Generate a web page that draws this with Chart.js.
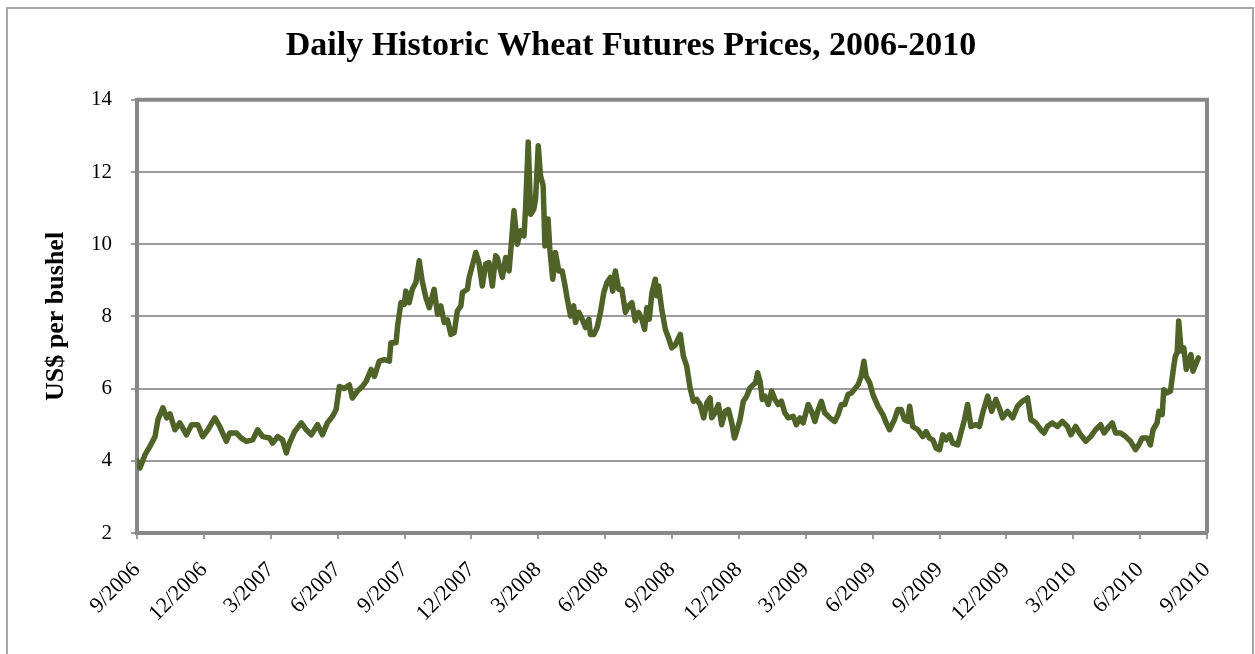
<!DOCTYPE html>
<html>
<head>
<meta charset="utf-8">
<script src="https://cdn.jsdelivr.net/npm/chart.js@4.4.1/dist/chart.umd.min.js"></script>
<style>
  html, body { margin: 0; padding: 0; background: #fff; }
  #wrap { width: 1255px; height: 654px; }
</style>
</head>
<body>
<div id="wrap"><canvas id="line-chart" width="1255" height="654"></canvas></div>
<script>
// months since 9/2006
const months = [
  0, 0.13, 0.36, 0.58, 0.81, 0.94, 1.16, 1.33, 1.48, 1.70,
  1.92, 2.22, 2.45, 2.73, 2.95, 3.18, 3.49, 3.71, 4.01, 4.16,
  4.46, 4.68, 4.91, 5.19, 5.41, 5.64, 5.95, 6.08, 6.31, 6.53,
  6.70, 6.84, 7.07, 7.37, 7.59, 7.82, 8.10, 8.32, 8.54, 8.77,
  8.93, 9.08, 9.30, 9.53, 9.66, 9.89, 10.11, 10.28, 10.50, 10.65,
  10.87, 11.09, 11.32, 11.39, 11.62, 11.69, 11.84, 11.99, 12.06, 12.21,
  12.35, 12.51, 12.66, 12.79, 12.96, 13.11, 13.33, 13.48, 13.63, 13.78,
  13.93, 14.08, 14.23, 14.37, 14.53, 14.60, 14.82, 14.90, 15.04, 15.20,
  15.34, 15.49, 15.64, 15.79, 15.94, 16.09, 16.16, 16.39, 16.54, 16.69,
  16.76, 16.91, 17.06, 17.21, 17.36, 17.43, 17.55, 17.66, 17.80, 17.88,
  18.00, 18.10, 18.22, 18.30, 18.44, 18.52, 18.65, 18.77, 18.92, 19.07,
  19.19, 19.29, 19.45, 19.59, 19.67, 19.82, 19.97, 20.12, 20.27, 20.34,
  20.49, 20.64, 20.79, 20.94, 21.08, 21.24, 21.34, 21.46, 21.61, 21.75,
  21.91, 22.05, 22.20, 22.35, 22.50, 22.65, 22.77, 22.87, 22.98, 23.10,
  23.25, 23.32, 23.40, 23.54, 23.70, 23.84, 23.99, 24.14, 24.37, 24.51,
  24.66, 24.81, 24.96, 25.11, 25.26, 25.42, 25.56, 25.71, 25.78, 25.93,
  26.08, 26.23, 26.38, 26.53, 26.68, 26.80, 26.90, 27.05, 27.20, 27.35,
  27.50, 27.65, 27.75, 27.84, 27.95, 28.05, 28.17, 28.32, 28.47, 28.62,
  28.76, 28.91, 29.06, 29.21, 29.44, 29.58, 29.74, 29.88, 30.11, 30.26,
  30.41, 30.56, 30.70, 30.85, 31.08, 31.30, 31.45, 31.60, 31.75, 31.90,
  32.05, 32.35, 32.49, 32.61, 32.71, 32.87, 33.01, 33.24, 33.46, 33.61,
  33.76, 33.98, 34.13, 34.28, 34.43, 34.58, 34.66, 34.80, 35.03, 35.25,
  35.40, 35.55, 35.70, 35.85, 36.00, 36.15, 36.29, 36.45, 36.59, 36.82,
  36.96, 37.12, 37.26, 37.41, 37.64, 37.79, 37.94, 38.16, 38.34, 38.53,
  38.68, 38.83, 39.05, 39.28, 39.50, 39.72, 39.95, 40.10, 40.32, 40.54,
  40.69, 40.84, 41.06, 41.29, 41.51, 41.74, 41.89, 42.11, 42.33, 42.56,
  42.78, 43.00, 43.23, 43.38, 43.60, 43.75, 43.90, 44.12, 44.35, 44.57,
  44.79, 44.94, 45.09, 45.32, 45.46, 45.58, 45.76, 45.84, 45.99, 46.06,
  46.21, 46.36, 46.51, 46.58, 46.66, 46.73, 46.84, 46.96, 47.07, 47.18,
  47.28, 47.37, 47.46, 47.61
]

// US$ per bushel
const prices = [
  4.0, 3.8, 4.17, 4.4, 4.67, 5.14, 5.47, 5.19, 5.3, 4.86,
  5.05, 4.72, 5.0, 5.0, 4.67, 4.86, 5.19, 4.95, 4.54, 4.77,
  4.77, 4.63, 4.54, 4.58, 4.86, 4.67, 4.63, 4.49, 4.67, 4.58,
  4.22, 4.49, 4.81, 5.05, 4.86, 4.72, 5.0, 4.72, 5.05, 5.23,
  5.42, 6.06, 6.0, 6.1, 5.74, 5.93, 6.06, 6.2, 6.53, 6.34,
  6.76, 6.8, 6.76, 7.27, 7.27, 7.73, 8.38, 8.33, 8.7, 8.38,
  8.75, 8.94, 9.54, 8.99, 8.52, 8.24, 8.75, 8.06, 8.29, 7.83,
  7.9, 7.5, 7.55, 8.15, 8.29, 8.66, 8.75, 9.08, 9.4, 9.77,
  9.49, 8.84, 9.45, 9.49, 8.84, 9.68, 9.63, 9.08, 9.63, 9.26,
  9.77, 10.93, 10.0, 10.37, 10.23, 10.97, 12.83, 10.83, 10.97, 11.25,
  12.73, 11.9, 11.62, 9.95, 10.7, 9.86, 9.03, 9.77, 9.26, 9.26,
  8.89, 8.52, 8.01, 8.29, 7.83, 8.11, 7.92, 7.69, 7.92, 7.5,
  7.5, 7.69, 8.11, 8.66, 8.94, 9.08, 8.7, 9.26, 8.75, 8.75,
  8.11, 8.29, 8.38, 7.88, 8.11, 7.92, 7.64, 8.24, 7.92, 8.66,
  9.03, 8.57, 8.84, 8.2, 7.64, 7.41, 7.13, 7.2, 7.5, 6.9,
  6.62, 6.02, 5.65, 5.7, 5.56, 5.19, 5.6, 5.74, 5.19, 5.33,
  5.56, 5.0, 5.37, 5.42, 5.05, 4.63, 4.81, 5.14, 5.65, 5.79,
  6.02, 6.11, 6.16, 6.44, 6.2, 5.7, 5.79, 5.56, 5.93, 5.7,
  5.56, 5.65, 5.33, 5.19, 5.23, 5.0, 5.19, 5.05, 5.56, 5.37,
  5.09, 5.42, 5.65, 5.33, 5.19, 5.09, 5.28, 5.56, 5.56, 5.84,
  5.88, 6.11, 6.34, 6.76, 6.34, 6.16, 5.84, 5.51, 5.28, 5.05,
  4.86, 5.14, 5.42, 5.42, 5.14, 5.09, 5.51, 4.95, 4.86, 4.67,
  4.81, 4.63, 4.58, 4.35, 4.31, 4.72, 4.58, 4.72, 4.49, 4.44,
  4.77, 5.14, 5.56, 4.95, 5.0, 4.95, 5.33, 5.79, 5.37, 5.7,
  5.47, 5.19, 5.37, 5.19, 5.51, 5.65, 5.74, 5.14, 5.05, 4.86,
  4.77, 4.95, 5.05, 4.95, 5.09, 4.95, 4.72, 4.95, 4.72, 4.54,
  4.67, 4.86, 5.0, 4.77, 4.95, 5.05, 4.77, 4.77, 4.67, 4.54,
  4.31, 4.44, 4.63, 4.63, 4.44, 4.86, 5.05, 5.37, 5.28, 5.97,
  5.88, 5.93, 6.62, 6.9, 6.99, 7.87, 7.04, 7.13, 6.53, 6.76,
  6.94, 6.48, 6.62, 6.85
]

const tickLabels = [
  '9/2006', '12/2006', '3/2007', '6/2007', '9/2007', '12/2007', '3/2008', '6/2008', '9/2008',
  '12/2008', '3/2009', '6/2009', '9/2009', '12/2009', '3/2010', '6/2010', '9/2010'
]

const SERIF = "'Liberation Serif', 'Times New Roman', serif"
const AXIS_GREY = '#888888'
const GRID_GREY = '#9c9c9c'

// outer frame + top/right edges of the plot box
const frame = {
  id: 'frame',
  beforeDraw(chart) {
    const ctx = chart.ctx
    ctx.save()
    ctx.fillStyle = '#fff'
    ctx.fillRect(0, 0, chart.width, chart.height)
    ctx.strokeStyle = '#a6a6a6'
    ctx.lineWidth = 2
    ctx.strokeRect(7, 8, 1246, 700)
    ctx.restore()
  },
  beforeDatasetsDraw(chart) {
    const { ctx, chartArea: a } = chart
    ctx.save()
    ctx.strokeStyle = AXIS_GREY
    ctx.lineWidth = 4
    ctx.beginPath()
    ctx.moveTo(a.left, a.top)
    ctx.lineTo(a.right, a.top)
    ctx.lineTo(a.right, a.bottom)
    ctx.stroke()
    ctx.restore()
  }
}

new Chart(document.getElementById('line-chart'), {
  type: 'line',
  data: {
    datasets: [{
      label: 'Wheat futures',
      data: months.map((m, i) => ({ x: m, y: prices[i] })),
      borderColor: '#4F6228',
      borderWidth: 5.5,
      pointRadius: 0,
      tension: 0,
      borderJoinStyle: 'round',
      borderCapStyle: 'round'
    }]
  },
  options: {
    responsive: false,
    animation: false,
    layout: { padding: { left: 55, right: 48, top: 0, bottom: 0 } },
    plugins: {
      legend: { display: false },
      tooltip: { enabled: false },
      title: {
        display: true,
        text: 'Daily Historic Wheat Futures Prices, 2006-2010',
        color: '#000',
        font: { family: SERIF, size: 34, weight: 'bold' },
        padding: { top: 26, bottom: 33 }
      }
    },
    scales: {
      x: {
        type: 'linear',
        min: 0,
        max: 48,
        afterFit: scale => { scale.height = 121 },
        afterBuildTicks: scale => {
          scale.ticks = tickLabels.map((_, i) => ({ value: i * 3 }))
        },
        ticks: {
          autoSkip: false,
          maxRotation: 45,
          minRotation: 45,
          padding: 18,
          color: '#000',
          font: { family: SERIF, size: 22 },
          callback: value => tickLabels[value / 3]
        },
        grid: {
          drawOnChartArea: false,
          drawTicks: true,
          tickLength: 6,
          color: GRID_GREY,
          lineWidth: 2
        },
        border: { color: AXIS_GREY, width: 4 }
      },
      y: {
        min: 2,
        max: 14,
        afterFit: scale => { scale.width = 82 },
        ticks: {
          stepSize: 2,
          padding: 19,
          color: '#000',
          font: { family: SERIF, size: 21 }
        },
        grid: {
          color: GRID_GREY,
          lineWidth: 2,
          tickLength: 6
        },
        border: { color: AXIS_GREY, width: 4 },
        title: {
          display: true,
          text: 'US$ per bushel',
          color: '#000',
          font: { family: SERIF, size: 26, weight: 'bold' },
          padding: { top: -14, bottom: 0 }
        }
      }
    }
  },
  plugins: [frame]
})
</script>
</body>
</html>
